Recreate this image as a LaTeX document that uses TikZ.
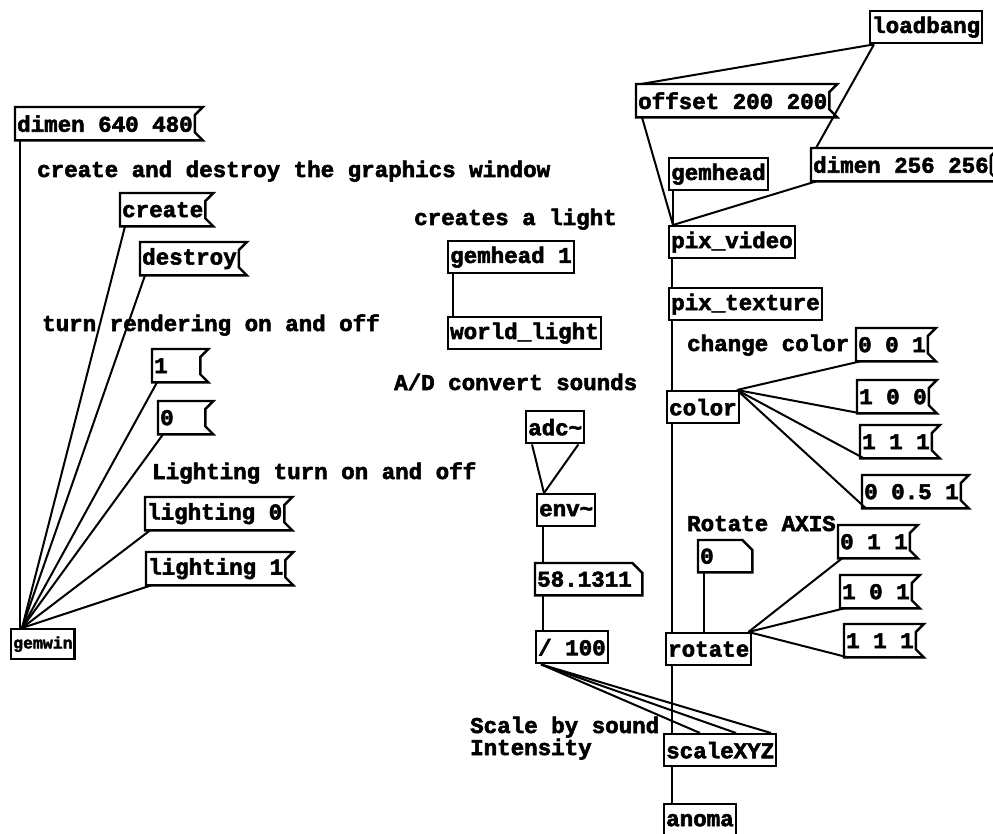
\documentclass[tikz,border=0pt]{standalone}
\usepackage{fontspec}
\newfontfamily\pdfont{Liberation Mono Bold}[FakeBold=2.5]
\begin{document}
\begin{tikzpicture}[x=1pt,y=-1pt,
  every node/.style={font=\pdfont\fontsize{22.5}{26}\selectfont, inner xsep=2pt, inner ysep=0pt},
  obj/.style={draw, line width=2.4pt, anchor=north west, minimum height=32pt},
  msg/.style={anchor=north west, minimum height=33pt},
  num/.style={anchor=north west, minimum height=32pt},
  cmt/.style={anchor=base west},
  wire/.style={line width=2pt},
  box/.style={line width=2.4pt, line join=miter}]
\useasboundingbox (0,0) rectangle (993,834);
% window control
\node[msg] (dimwin) at (15,107) {dimen 640 480};
\node[cmt] (cmtwin) at (35,177) {create and destroy the graphics window};
\node[msg] (create) at (120,193) {create};
\node[msg] (destroy) at (140,242) {destroy};
\node[cmt] (cmtrender) at (40,331) {turn rendering on and off};
\node[msg, text width=44pt, align=left] (renderon) at (152,349) {1};
\node[msg, text width=43pt, align=left] (renderoff) at (158,401) {0};
\node[cmt] (cmtlight) at (150,479) {Lighting turn on and off};
\node[msg] (lightoff) at (145,497) {lighting 0};
\node[msg] (lighton) at (146,552) {lighting 1};
\node[obj, font=\pdfont\fontsize{16.5}{18}\selectfont, minimum width=57pt, minimum height=30pt] (gemwin) at (10,628) {gemwin};
% light
\node[cmt] (cmtworld) at (412,225) {creates a light};
\node[obj] (lighthead) at (447,240) {gemhead 1};
\node[obj] (worldlight) at (447,316) {world\_light};
% sound
\node[cmt] (cmtadc) at (392,390) {A/D convert sounds};
\node[obj] (adc) at (525,410) {adc\char`~};
\node[obj] (env) at (536,493) {env\char`~};
\node[num, text width=103pt, align=left] (level) at (535,563) {58.1311};
\node[obj] (div) at (535,630) {/ 100};
\node[cmt] (cmtscale) at (468,733) {Scale by sound};
\node[cmt] (cmtscaleb) at (468,755) {Intensity};
% video chain
\node[obj] (loadbang) at (869,10) {loadbang};
\node[msg] (offset) at (636,84) {offset 200 200};
\node[msg] (dimvid) at (811,148) {dimen 256 256};
\node[obj] (gemhead) at (668,157) {gemhead};
\node[obj] (pixvideo) at (668,225) {pix\_video};
\node[obj] (pixtexture) at (668,287) {pix\_texture};
\node[cmt] (cmtcolor) at (685,351) {change color};
\node[msg] (colA) at (856,328) {0 0 1};
\node[msg] (colB) at (857,380) {1 0 0};
\node[msg] (colC) at (860,425) {1 1 1};
\node[msg] (colD) at (862,475) {0 0.5 1};
\node[obj] (color) at (666,390) {color};
\node[cmt] (cmtrotate) at (685,531) {Rotate AXIS};
\node[num, text width=50pt, align=left] (angle) at (698,540) {0};
\node[msg] (axisA) at (838,525) {0 1 1};
\node[msg] (axisB) at (840,575) {1 0 1};
\node[msg] (axisC) at (844,624) {1 1 1};
\node[obj] (rotate) at (665,632) {rotate};
\node[obj] (scalexyz) at (663,733) {scaleXYZ};
\node[obj] (anoma) at (663,803) {anoma};
% message and number outlines
\foreach \m in {dimwin,create,destroy,renderon,renderoff,lightoff,lighton,offset,dimvid,colA,colB,colC,colD,axisA,axisB,axisC}
  \draw[box] (\m.north west) -- ([xshift=8pt]\m.north east) -- ([yshift=-8pt]\m.north east)
    -- ([yshift=8pt]\m.south east) -- ([xshift=8pt]\m.south east) -- (\m.south west) -- cycle;
\foreach \n in {level,angle}
  \draw[box] (\n.north west) -- ([xshift=-10pt]\n.north east) -- ([yshift=-10pt]\n.north east)
    -- (\n.south east) -- (\n.south west) -- cycle;
% wires
\draw[wire] ([xshift=5pt]dimwin.south west) -- ([xshift=10pt]gemwin.north west);
\foreach \m in {create,destroy,renderon,renderoff,lightoff,lighton}
  \draw[wire] ([xshift=5pt]\m.south west) -- ([xshift=12pt]gemwin.north west);
\draw[wire] ([xshift=6pt]lighthead.south west) -- ([xshift=6pt]worldlight.north west);
\draw[wire] ([xshift=7pt]adc.south west) -- ([xshift=8pt]env.north west);
\draw[wire] ([xshift=-7pt]adc.south east) -- ([xshift=8pt]env.north west);
\draw[wire] ([xshift=7pt]env.south west) -- ([xshift=8pt]level.north west);
\draw[wire] ([xshift=8pt]level.south west) -- ([xshift=8pt]div.north west);
\foreach \s in {37pt,73pt,108pt}
  \draw[wire] ([xshift=6pt]div.south west) -- ([xshift=\s]scalexyz.north west);
\draw[wire] ([xshift=5pt]loadbang.south west) -- ([xshift=5pt]offset.north west);
\draw[wire] ([xshift=5pt]loadbang.south west) -- ([xshift=5pt]dimvid.north west);
\draw[wire] ([xshift=6pt]offset.south west) -- ([xshift=5pt]pixvideo.north west);
\draw[wire] ([xshift=5pt]gemhead.south west) -- ([xshift=5pt]pixvideo.north west);
\draw[wire] ([xshift=5pt]dimvid.south west) -- ([xshift=5pt]pixvideo.north west);
\draw[wire] ([xshift=4pt]pixvideo.south west) -- ([xshift=4pt]pixtexture.north west);
\draw[wire] ([xshift=4pt]pixtexture.south west) -- ([xshift=6pt]color.north west);
\foreach \m in {colA,colB,colC,colD}
  \draw[wire] ([xshift=4pt]\m.south west) -- ([xshift=-3pt]color.north east);
\draw[wire] ([xshift=6pt]color.south west) -- ([xshift=7pt]rotate.north west);
\draw[wire] ([xshift=6pt]angle.south west) -- ([xshift=39pt]rotate.north west);
\foreach \m in {axisA,axisB,axisC}
  \draw[wire] ([xshift=4pt]\m.south west) -- ([xshift=-4pt]rotate.north east);
\draw[wire] ([xshift=7pt]rotate.south west) -- ([xshift=9pt]scalexyz.north west);
\draw[wire] ([xshift=9pt]scalexyz.south west) -- ([xshift=9pt]anoma.north west);
\end{tikzpicture}
\end{document}
